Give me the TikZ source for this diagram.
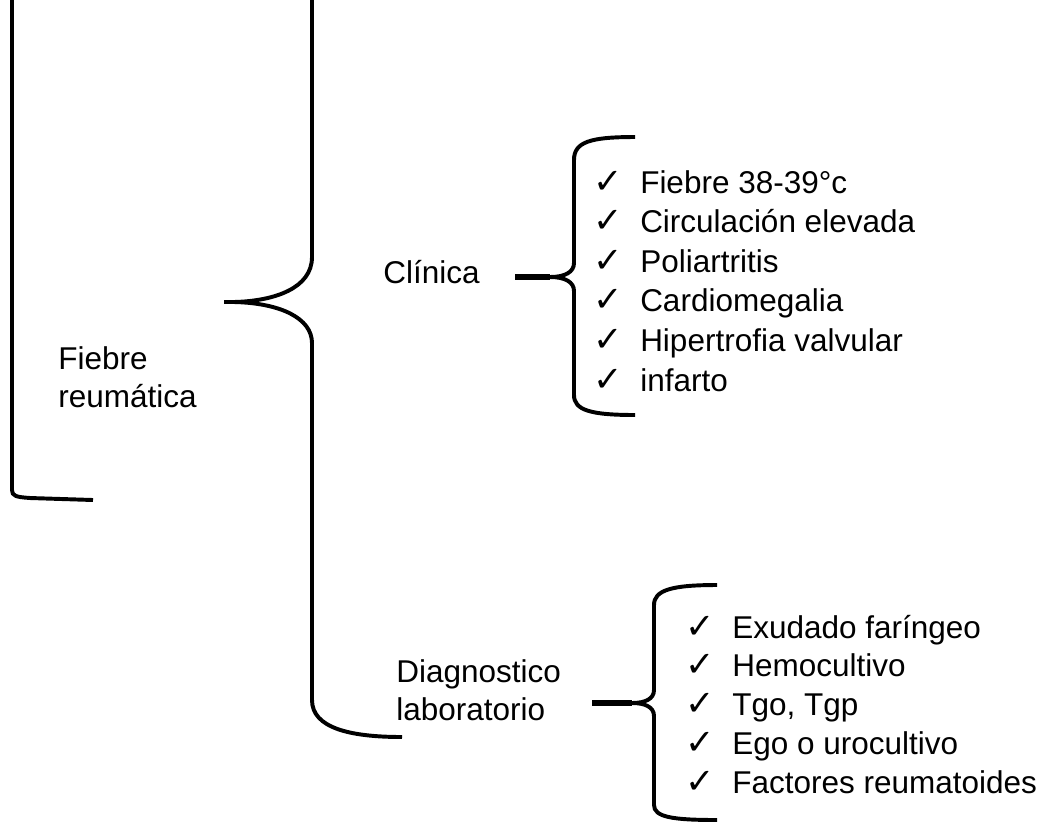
\documentclass[tikz,border=0pt]{standalone}
\usepackage{fontspec}
\setmainfont{Liberation Sans}
\newfontfamily\tickfont{DejaVu Sans}
% marca de la lista y su hueco hasta el texto
\newcommand{\tick}{\makebox[33.4pt][l]{\tickfont\fontsize{25}{25}\selectfont ✓}}

\begin{document}
\begin{tikzpicture}[
    x=0.025cm, y=-0.025cm,
    label/.style={inner sep=0, align=left, anchor=west, font=\fontsize{22.4}{27}\selectfont},
    item/.style={inner sep=0, anchor=base west, font=\fontsize{22.4}{27}\selectfont},
    brace/.style={line width=2.8pt},
    conn/.style={line width=4pt}
]
    \useasboundingbox (0,0) rectangle (1051,825);

    % --- Titulos ---
    \node[label] (root) at (58,377.5) {Fiebre\\reumática};
    \node[label] (clin) at (383,272) {Clínica};
    \node[label] (diag) at (396,690.5) {Diagnostico\\laboratorio};

    % --- Listas ---
    \foreach \txt [count=\i] in {Fiebre 38-39°c, Circulación elevada, Poliartritis,
        Cardiomegalia, Hipertrofia valvular, infarto}
        \node[item] (clin\i) at (593,153.4+39.6*\i) {\tick\txt};
    \foreach \txt [count=\i] in {Exudado faríngeo, Hemocultivo, {Tgo, Tgp},
        Ego o urocultivo, Factores reumatoides}
        \node[item] (diag\i) at (685,599.25+38.75*\i) {\tick\txt};

    % --- Llaves ---
    \coordinate (bigtip) at (224,302);
    \coordinate (clintip) at (550,277);
    \coordinate (clinstub) at (515,277);
    \coordinate (diagtip) at (632,703);
    \coordinate (diagstub) at (592,703);

    % corchete de la izquierda
    \draw[brace] (12,-10) -- (12,490) .. controls (12,496) and (16,497) .. (30,498) -- (93,500);

    % llave grande
    \draw[brace] (312,-10) -- (312,257) .. controls (312,288) and (275,301) .. (234,302) -- (bigtip);
    \draw[brace] (bigtip) -- (234,302) .. controls (280,303) and (312,318) .. (312,343)
        -- (312,700) .. controls (312,728) and (350,737) .. (402,737);

    % llave de la clinica
    \draw[brace] (635,137) .. controls (590,137) and (574,142) .. (574,160) -- (574,263)
        .. controls (574,272) and (565,277) .. (clintip)
        .. controls (565,277) and (574,282) .. (574,291) -- (574,395)
        .. controls (574,410) and (590,415) .. (635,415);
    \draw[conn] (clinstub) -- (clintip);

    % llave del laboratorio
    \draw[brace] (717,585) .. controls (672,585) and (654,590) .. (654,605) -- (654,690)
        .. controls (654,699) and (645,703) .. (diagtip)
        .. controls (645,703) and (654,707) .. (654,716) -- (654,805)
        .. controls (654,817) and (672,820) .. (717,820);
    \draw[conn] (diagstub) -- (diagtip);

\end{tikzpicture}
\end{document}
